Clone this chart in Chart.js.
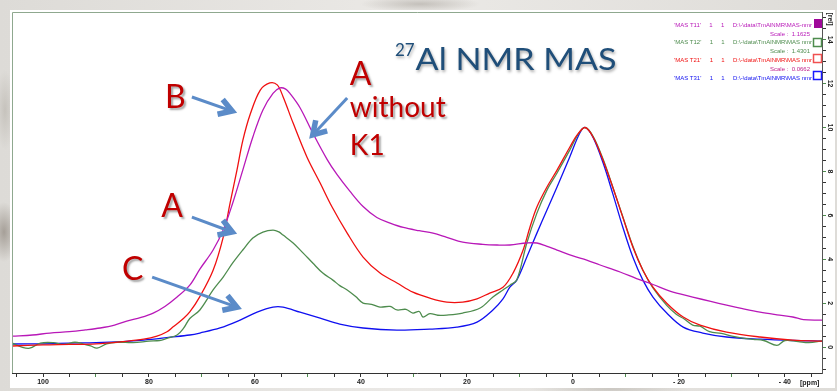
<!DOCTYPE html>
<html>
<head>
<meta charset="utf-8">
<title>27Al NMR MAS</title>
<script src="https://cdn.jsdelivr.net/npm/chart.js@4.4.1/dist/chart.umd.min.js"></script>
<style>
  html, body { margin: 0; padding: 0; }
  body {
    width: 837px;
    height: 391px;
    overflow: hidden;
    background-color: #e2e0dc;
    background-image:
      radial-gradient(ellipse 14px 30px at 4px 232px, rgba(120, 110, 100, 0.55), rgba(120, 110, 100, 0) 100%),
      radial-gradient(ellipse 60px 8px at 420px 4px, rgba(170, 165, 158, 0.6), rgba(170, 165, 158, 0) 100%),
      radial-gradient(ellipse 80px 6px at 610px 389px, rgba(175, 170, 162, 0.5), rgba(175, 170, 162, 0) 100%),
      radial-gradient(ellipse 10px 40px at 5px 110px, rgba(175, 170, 162, 0.5), rgba(175, 170, 162, 0) 100%),
      linear-gradient(90deg, #dddbd7, #ebe9e6 50%, #dedcd8);
  }
  canvas { display: block; }
</style>
</head>
<body>
<canvas id="nmrChart" width="837" height="391"></canvas>
<script>
// chemical shift (ppm) and relative intensity for each spectrum

// A without K1
const ppmNoK1 = [105.8, 102, 98.7, 95, 92, 89.2, 86.5, 84.2, 81.5, 79.2, 77, 74.7, 72.3, 70.4, 67.9, 66, 64.2, 62.3, 60.4, 58.5, 56.6, 55.3, 54.2, 53.4, 51.5, 49.1, 46.4, 44.5, 42.1, 39.6, 37, 34.5, 32, 29, 26.4, 23.8, 20.8, 17, 14.3, 11.9, 8.7, 6.8, 5, 3, 0, -2.6, -5, -8.9, -12, -15.1, -18.3, -22.6, -26, -29, -32, -35.3, -38.5, -41.5, -43.5, -47];
const intNoK1 = [0.5, 0.55, 0.64, 0.7, 0.78, 0.87, 1.0, 1.18, 1.35, 1.55, 1.85, 2.28, 2.82, 3.55, 4.42, 5.33, 6.56, 8.06, 9.57, 10.8, 11.55, 11.8, 11.75, 11.55, 10.9, 9.75, 8.55, 7.85, 7.1, 6.4, 5.9, 5.65, 5.45, 5.3, 5.19, 5.0, 4.78, 4.68, 4.65, 4.65, 4.74, 4.74, 4.6, 4.42, 4.15, 3.96, 3.75, 3.42, 3.12, 2.85, 2.55, 2.28, 2.08, 1.91, 1.75, 1.59, 1.47, 1.37, 1.25, 1.23];

// B
const ppmB = [105.8, 100, 95, 90, 85, 81, 78.5, 76.6, 75.5, 73.5, 72.3, 70.4, 67.9, 66, 64.7, 63.4, 62.3, 60.9, 59, 57.2, 55.8, 54.7, 52.8, 50.2, 47.7, 45.5, 42.6, 39.6, 36.4, 33.2, 30.2, 27, 23.8, 20.8, 18.1, 15.7, 13.2, 11.3, 9.4, 8.1, 6.8, 4.9, 3, 0.6, -0.8, -2.3, -3.8, -5.7, -7.5, -9.4, -11.3, -13.2, -15.1, -17.7, -20.8, -24, -29, -35.3, -41.5, -47];
const intB = [0.05, 0.1, 0.12, 0.15, 0.25, 0.36, 0.5, 0.7, 0.91, 1.3, 1.6, 2.3, 3.5, 5.0, 6.56, 8.06, 9.4, 10.6, 11.7, 12.03, 11.94, 11.4, 10.2, 8.66, 7.47, 6.4, 5.19, 4.1, 3.37, 2.92, 2.5, 2.23, 2.05, 2.05, 2.2, 2.46, 2.72, 3.37, 4.42, 5.47, 6.38, 7.29, 8.06, 9.1, 9.66, 10.0, 9.57, 8.5, 7.29, 5.92, 4.56, 3.5, 2.73, 2.0, 1.37, 1.0, 0.68, 0.46, 0.32, 0.27];

// A
const ppmA = [105.8, 104, 102.5, 100.5, 98, 96, 94, 92.5, 91, 89.8, 88, 86, 83, 80, 78, 76.6, 74.7, 73.5, 72.3, 70.4, 67.9, 66, 64.2, 62.3, 60.4, 58.5, 56.6, 55.5, 54.7, 52.8, 50.9, 49.1, 47.2, 45.3, 44, 42.6, 41, 39.6, 38, 36.4, 34.5, 33.2, 31.5, 30.2, 29, 28.3, 27, 25.5, 23.8, 20.8, 17.5, 15.1, 13.2, 11.9, 10.6, 8.7, 6.8, 4.9, 3, 0.6, -1, -2.3, -3.8, -5.7, -7.5, -9.4, -11.3, -13.2, -15.1, -17.7, -19.5, -21, -22.6, -24, -25.8, -28, -30, -32, -34, -36, -38.5, -40, -42.5, -44.5, -47];
const intA = [0.18, 0.0, -0.05, 0.18, 0.2, 0.12, 0.22, 0.15, 0.05, -0.05, 0.15, 0.22, 0.2, 0.27, 0.3, 0.4, 0.55, 0.85, 1.3, 1.69, 2.6, 3.19, 3.83, 4.42, 4.97, 5.24, 5.33, 5.25, 5.1, 4.74, 4.28, 3.83, 3.37, 3.05, 2.8, 2.6, 2.3, 2.0, 1.95, 1.82, 1.85, 1.69, 1.72, 1.55, 1.62, 1.37, 1.52, 1.45, 1.46, 1.55, 1.78, 2.28, 2.6, 2.82, 3.05, 4.74, 6.1, 7.15, 7.93, 8.97, 9.7, 10.0, 9.6, 8.55, 7.3, 5.95, 4.6, 3.5, 2.7, 1.9, 1.5, 1.28, 1.0, 0.95, 0.7, 0.62, 0.5, 0.41, 0.35, 0.3, 0.08, 0.3, 0.25, 0.2, 0.28];

// C
const ppmC = [105.8, 100, 95, 90, 85, 81, 76, 72.3, 70.4, 66.6, 62.8, 59.6, 56.6, 54.7, 51.5, 47.7, 44, 39.6, 33.2, 27, 21.9, 18.1, 15.1, 13.2, 11.9, 10.6, 8.7, 6.8, 4.9, 3, 0.6, -1.3, -2.3, -3.8, -5.7, -7.5, -9.4, -11.3, -13.2, -15.1, -17.7, -20.8, -24.5, -29, -35.3, -41.5, -47];
const intC = [0.14, 0.15, 0.18, 0.2, 0.25, 0.32, 0.45, 0.55, 0.64, 0.87, 1.23, 1.59, 1.82, 1.82, 1.59, 1.32, 1.05, 0.87, 0.77, 0.82, 0.91, 1.14, 1.69, 2.2, 2.73, 3.05, 4.1, 5.19, 6.24, 7.29, 8.66, 9.75, 10.0, 9.55, 8.38, 7.0, 5.47, 4.1, 3.05, 2.28, 1.55, 0.91, 0.64, 0.46, 0.36, 0.3, 0.27];

// axis ranges
const ppmRange = [-47, 105.85];
const relRange = [-1.18, 15.26];

// acquisition lines shown in the top-right legend
const legendLines = [
  { text: "'MAS T11'     1     1     D:\\-\\data\\TmAlNMR\\MAS-nmr", color: '#b818b8' },
  { text: 'Scale :  1.1625', color: '#b818b8' },
  { text: "'MAS T12'     1     1     D:\\-\\data\\TmAlNMR\\MAS nmr", color: '#4e8c4e' },
  { text: 'Scale :  1.4301', color: '#4e8c4e' },
  { text: "'MAS T21'     1     1     D:\\-\\data\\TmAlNMR\\MAS nmr", color: '#f01010' },
  { text: 'Scale :  0.0662', color: '#c0208c' },
  { text: "'MAS T31'     1     1     D:\\-\\data\\TmAlNMR\\MAS nmr", color: '#1010f0' }
];

function toPoints(xs, ys) {
  return xs.map((x, i) => ({ x: x, y: ys[i] }));
}

const sampleColors = { noK1: '#b818b8', b: '#f01010', a: '#4e8c4e', c: '#1010f0' };

// annotation anchors in (ppm, intensity)
const notes = [
  { text: 'B', ppm: 77.0, rel: 10.9, size: 32 },
  { text: 'A', ppm: 77.7, rel: 5.92, size: 32 },
  { text: 'C', ppm: 85.1, rel: 3.05, size: 32 },
  { text: 'A', ppm: 42.1, rel: 11.94, size: 32 },
  { text: 'without', ppm: 42.1, rel: 10.48, size: 28 },
  { text: 'K1', ppm: 42.1, rel: 8.75, size: 28 }
];
const arrows = [
  { from: [71.9, 11.39], to: [64.3, 10.75] },
  { from: [71.9, 5.92], to: [64.3, 5.24] },
  { from: [79.4, 3.19], to: [63.4, 1.82] },
  { from: [42.6, 11.34], to: [49.1, 9.66] }
];

function drawArrow(ctx, x0, y0, x1, y1) {
  const ang = Math.atan2(y1 - y0, x1 - x0);
  const head = 15;
  ctx.save();
  ctx.strokeStyle = '#5b8bc8';
  ctx.lineWidth = 3;
  ctx.lineCap = 'butt';
  ctx.beginPath();
  ctx.moveTo(x0, y0);
  ctx.lineTo(x1 - Math.cos(ang) * 3, y1 - Math.sin(ang) * 3);
  ctx.stroke();
  ctx.lineWidth = 5.5;
  ctx.lineJoin = 'miter';
  ctx.beginPath();
  ctx.moveTo(x1 - head * Math.cos(ang - 0.55), y1 - head * Math.sin(ang - 0.55));
  ctx.lineTo(x1, y1);
  ctx.lineTo(x1 - head * Math.cos(ang + 0.55), y1 - head * Math.sin(ang + 0.55));
  ctx.stroke();
  ctx.restore();
}

const decorations = {
  id: 'decorations',
  beforeDraw(chart) {
    const ctx = chart.ctx;
    ctx.save();
    ctx.fillStyle = '#ffffff';
    ctx.fillRect(10, 10, 825, 378);
    ctx.restore();
  },
  afterDraw(chart) {
    const ctx = chart.ctx;
    const xs = chart.scales.x, ys = chart.scales.y;
    const area = chart.chartArea;

    // frame on the left and top
    ctx.save();
    ctx.strokeStyle = '#8fa88f';
    ctx.lineWidth = 1;
    ctx.beginPath();
    ctx.moveTo(area.left + 0.5, area.bottom);
    ctx.lineTo(area.left + 0.5, area.top + 0.5);
    ctx.lineTo(area.right, area.top + 0.5);
    ctx.stroke();
    ctx.restore();

    // rotated intensity labels on the right axis
    ctx.save();
    ctx.fillStyle = '#222';
    ctx.font = 'bold 7px "Liberation Sans", Arial, sans-serif';
    ctx.textAlign = 'center';
    ctx.textBaseline = 'middle';
    for (let v = 0; v <= 14; v += 2) {
      ctx.save();
      ctx.translate(ys.left + 8, ys.getPixelForValue(v));
      ctx.rotate(Math.PI / 2);
      ctx.fillText(String(v), 0, 0);
      ctx.restore();
    }
    ctx.save();
    ctx.translate(ys.left + 8, 19);
    ctx.rotate(Math.PI / 2);
    ctx.fillText('[rel]', 0, 0);
    ctx.restore();
    ctx.textAlign = 'left';
    ctx.fillText('[ppm]', 800, xs.top + 10);
    ctx.restore();

    // legend
    ctx.save();
    ctx.font = '6px "Liberation Sans", Arial, sans-serif';
    ctx.textAlign = 'right';
    ctx.textBaseline = 'middle';
    const legendTop = 25;
    legendLines.forEach((ln, i) => {
      ctx.fillStyle = ln.color;
      ctx.fillText(ln.text, i % 2 ? 810 : 812, legendTop + i * 8.9);
    });
    const boxes = [
      { color: '#a0089a', fill: true, y: 19 },
      { color: '#4e8c4e', fill: false, y: 38 },
      { color: '#f05050', fill: false, y: 54 },
      { color: '#1a1aff', fill: false, y: 71 }
    ];
    boxes.forEach(b => {
      if (b.fill) {
        ctx.fillStyle = b.color;
        ctx.fillRect(area.right - 8, b.y, 8, 9);
      } else {
        ctx.strokeStyle = b.color;
        ctx.lineWidth = 1.5;
        ctx.strokeRect(area.right - 8.5, b.y + 0.5, 8, 8);
      }
    });
    ctx.restore();

    // title
    ctx.save();
    ctx.fillStyle = '#1f4e79';
    ctx.shadowColor = 'rgba(0, 0, 0, 0.35)';
    ctx.shadowOffsetX = 1;
    ctx.shadowOffsetY = 2;
    ctx.shadowBlur = 3;
    ctx.textBaseline = 'alphabetic';
    const tx = xs.getPixelForValue(33.6), ty = ys.getPixelForValue(12.62);
    ctx.font = '17px Lato, "Open Sans", sans-serif';
    ctx.fillText('27', tx, ty - 14);
    const supW = ctx.measureText('27').width;
    ctx.font = '31px Lato, "Open Sans", sans-serif';
    const main = 'Al NMR MAS';
    const w = ctx.measureText(main).width;
    ctx.translate(tx + supW + 1, ty);
    ctx.scale(201 / w, 1);
    ctx.fillText(main, 0, 0);
    ctx.restore();

    // sample labels and arrows
    arrows.forEach(a => {
      drawArrow(ctx,
        xs.getPixelForValue(a.from[0]), ys.getPixelForValue(a.from[1]),
        xs.getPixelForValue(a.to[0]), ys.getPixelForValue(a.to[1]));
    });
    ctx.save();
    ctx.fillStyle = '#c00000';
    ctx.shadowColor = 'rgba(0, 0, 0, 0.35)';
    ctx.shadowOffsetX = 2;
    ctx.shadowOffsetY = 2;
    ctx.shadowBlur = 2;
    ctx.textBaseline = 'alphabetic';
    notes.forEach(n => {
      ctx.font = n.size + 'px Lato, "Open Sans", sans-serif';
      ctx.fillText(n.text, xs.getPixelForValue(n.ppm), ys.getPixelForValue(n.rel));
    });
    ctx.restore();
  }
};

const ctx = document.getElementById('nmrChart').getContext('2d');
new Chart(ctx, {
  type: 'line',
  data: {
    datasets: [
      { label: 'A without K1', data: toPoints(ppmNoK1, intNoK1), borderColor: sampleColors.noK1 },
      { label: 'B', data: toPoints(ppmB, intB), borderColor: sampleColors.b },
      { label: 'A', data: toPoints(ppmA, intA), borderColor: sampleColors.a },
      { label: 'C', data: toPoints(ppmC, intC), borderColor: sampleColors.c }
    ]
  },
  options: {
    responsive: false,
    animation: false,
    layout: { padding: { left: 12, top: 12, right: 0, bottom: 0 } },
    plugins: {
      legend: { display: false },
      tooltip: { enabled: false }
    },
    elements: {
      point: { radius: 0 },
      line: { borderWidth: 1.3, tension: 0.35, fill: false }
    },
    scales: {
      x: {
        type: 'linear',
        reverse: true,
        min: ppmRange[0],
        max: ppmRange[1],
        border: { color: '#333', width: 1 },
        grid: {
          drawOnChartArea: false,
          tickLength: 4,
          tickColor: c => (c.tick && c.tick.value % 10 === 0 && c.tick.value % 20 !== 0) ? '#4e8c4e' : '#333'
        },
        ticks: {
          stepSize: 5,
          includeBounds: false,
          autoSkip: false,
          maxRotation: 0,
          padding: 1,
          color: '#222',
          font: { family: '"Liberation Sans", Arial, sans-serif', size: 7, weight: 'bold' },
          callback: v => v % 20 === 0 ? (v < 0 ? '- ' + Math.abs(v) : String(v)) : ''
        },
        afterFit: s => { s.height = 18; }
      },
      y: {
        position: 'right',
        min: relRange[0],
        max: relRange[1],
        border: { color: '#555', width: 1 },
        grid: {
          drawOnChartArea: false,
          tickLength: 4,
          tickColor: c => (c.tick && c.tick.value % 2 === 0) ? '#4e8c4e' : '#333'
        },
        ticks: {
          stepSize: 0.5,
          includeBounds: false,
          autoSkip: false,
          callback: () => ''
        },
        afterFit: s => { s.width = 15; }
      }
    }
  },
  plugins: [decorations]
});
</script>
</body>
</html>
